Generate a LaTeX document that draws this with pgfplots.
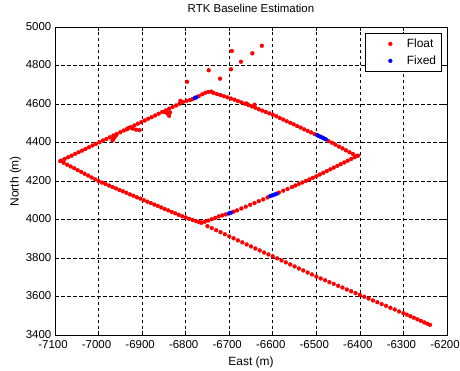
\documentclass[border=0pt]{standalone}
\usepackage{fontspec}
\setmainfont{Liberation Sans}
\usepackage{pgfplots}
\pgfplotsset{compat=1.18}
\begin{document}
\fontsize{12}{14}\selectfont
\begin{tikzpicture}
\useasboundingbox (-55bp,-35.7bp) rectangle (405bp,335.3bp);
\begin{axis}[
  at={(0,0)}, anchor=south west,
  scale only axis, width=392bp, height=308bp,
  xmin=-7100, xmax=-6200, ymin=3400, ymax=5000,
  xtick={-7100,-7000,...,-6200},
  ytick={3400,3600,...,5000},
  /pgf/number format/assume math mode=true,
  /pgf/number format/1000 sep={},
  tick align=inside, major tick length=4bp,
  tick style={black, line width=0.7bp},
  axis line style={black, line width=0.9bp},
  grid=major,
  grid style={black, line width=0.7bp, dash pattern=on 3.5bp off 2.5bp},
  title={RTK Baseline Estimation},
  title style={at={(axis description cs:0.5,1)}, anchor=base, yshift=9bp, font=\fontsize{11.5}{13}\selectfont},
  xlabel={East (m)},
  xlabel style={at={(axis description cs:0.5,0)}, anchor=base, yshift=-30bp},
  ylabel={North (m)},
  ylabel style={at={(axis description cs:-0.093,0.5)}, anchor=base},
  ticklabel style={font=\fontsize{11.5}{13}\selectfont},
  xticklabel style={yshift=-1.5bp, xshift=-2bp},
  yticklabel style={xshift=0.5bp, yshift=1bp},
  legend style={at={(axis description cs:0.987,0.982)}, anchor=north east,
    draw=black, line width=0.7bp, inner sep=3.5bp, row sep=2.5bp,
    nodes={anchor=west}},
  legend image code/.code={%
    \path (0cm,0cm) (1.25cm,0cm);
    \draw[mark repeat=2,mark phase=2,#1] plot coordinates {(0.5cm,0cm) (0.75cm,0cm) (1.0cm,0cm)};
  },
]
% Float
\addplot[only marks, mark=*, mark size=2bp, red, mark options={draw=red, fill=red, line width=0.2bp}] coordinates {
% upper-left edge
(-7088,4305) (-7086,4307) (-7078,4316) (-7070,4325) (-7062,4333) (-7054,4342) (-7046,4351)
(-7038,4359) (-7030,4368) (-7022,4377) (-7014,4386) (-7006,4394) (-6998,4403) (-6990,4412)
(-6982,4420) (-6974,4429) (-6966,4438) (-6958,4446) (-6950,4455) (-6942,4464) (-6934,4473)
(-6926,4481) (-6918,4490) (-6910,4499) (-6902,4507) (-6894,4516) (-6886,4525) (-6878,4533)
(-6870,4542) (-6862,4551) (-6854,4560) (-6846,4568) (-6838,4577) (-6830,4586) (-6822,4594)
(-6814,4603) (-6806,4612)
% blobs
(-6848,4560) (-6843,4555) (-6840,4548) (-6838,4540) (-6845,4566) (-6836,4558)
(-6930,4478) (-6922,4474) (-6914,4468) (-6906,4466) (-6935,4470)
(-6960,4440) (-6963,4430) (-6966,4420) (-6968,4412)
% near top
(-6812,4618) (-6798,4618) (-6790,4622) (-6784,4627)
(-6770,4642) (-6762,4652) (-6755,4660) (-6748,4664) (-6741,4666)
% upper-right edge
(-6736,4659) (-6728,4653) (-6720,4648) (-6712,4642) (-6704,4636) (-6696,4630) (-6688,4624)
(-6680,4617) (-6672,4610) (-6664,4603) (-6656,4596) (-6648,4589) (-6640,4582) (-6632,4574)
(-6624,4567) (-6616,4560) (-6608,4553) (-6600,4546)
(-6592,4538) (-6584,4529) (-6576,4521) (-6568,4512) (-6560,4504) (-6552,4496) (-6544,4487)
(-6536,4479) (-6528,4470) (-6520,4462) (-6512,4454) (-6504,4445)
(-6472,4409) (-6464,4400) (-6456,4390) (-6448,4380) (-6440,4371) (-6432,4361) (-6424,4351)
(-6416,4342) (-6408,4332) (-6404,4333)
(-6642,4598) (-6660,4604)
% lower-right edge
(-6412,4325) (-6420,4316) (-6428,4307) (-6436,4298) (-6444,4289) (-6452,4280) (-6460,4271)
(-6468,4262) (-6476,4253) (-6484,4244) (-6492,4235) (-6500,4226)
(-6508,4218) (-6516,4210) (-6524,4202) (-6532,4194) (-6540,4186) (-6548,4178) (-6556,4170)
(-6566,4160) (-6576,4151) (-6586,4141)
(-6612,4116) (-6622,4106) (-6632,4097) (-6642,4087) (-6652,4078) (-6662,4068) (-6672,4059)
(-6682,4049) (-6690,4042)
(-6708,4028) (-6716,4023) (-6724,4018) (-6732,4010) (-6740,4003) (-6748,3996) (-6756,3990)
(-6763,3985)
% lower-left edge
(-7080,4296) (-7072,4286) (-7064,4277) (-7056,4268) (-7048,4258) (-7040,4249) (-7032,4239)
(-7024,4230) (-7016,4220) (-7008,4211) (-7000,4201)
(-6992,4193) (-6984,4186) (-6976,4178) (-6968,4170) (-6960,4163) (-6952,4155) (-6944,4148)
(-6936,4140) (-6928,4132) (-6920,4125) (-6912,4117) (-6904,4110) (-6896,4102) (-6888,4094)
(-6880,4087) (-6872,4079) (-6864,4072) (-6856,4064) (-6848,4056) (-6840,4049) (-6832,4041)
(-6824,4034) (-6816,4026) (-6808,4019) (-6800,4012)
(-6792,4005) (-6784,3999) (-6776,3993) (-6770,3989) (-6765,3986)
% straight sparse line
(-6750,3967) (-6740,3957) (-6730,3946) (-6720,3936) (-6710,3925) (-6700,3914) (-6690,3904)
(-6680,3893) (-6670,3883) (-6660,3872) (-6650,3862) (-6640,3851) (-6630,3841) (-6620,3830)
(-6610,3820) (-6600,3810) (-6590,3800) (-6580,3789) (-6570,3779) (-6560,3768) (-6550,3758)
(-6540,3747) (-6530,3737) (-6520,3726) (-6510,3716) (-6500,3705) (-6490,3695) (-6480,3686)
(-6470,3676) (-6460,3667) (-6450,3657) (-6440,3648) (-6430,3638) (-6420,3629) (-6410,3619)
(-6400,3610) (-6390,3600) (-6380,3591) (-6370,3581) (-6360,3572) (-6350,3562) (-6340,3553)
(-6330,3543) (-6320,3534) (-6310,3524) (-6300,3515) (-6292,3507) (-6284,3499) (-6276,3491)
(-6268,3483) (-6260,3475) (-6252,3467) (-6245,3460) (-6239,3454)
% scattered
(-6625,4904) (-6647,4865) (-6673,4821) (-6694,4877) (-6696,4782) (-6721,4733) (-6747,4777)
(-6797,4717)
};
\addlegendentry{Float}
% Fixed
\addplot[only marks, mark=*, mark size=2bp, blue, mark options={draw=blue, fill=blue, line width=0.2bp}] coordinates {
(-6779,4633) (-6776,4636)
(-6498,4440) (-6494,4435) (-6490,4431) (-6486,4427) (-6482,4422) (-6478,4418)
(-6606,4123) (-6601,4127) (-6596,4131) (-6591,4135)
(-6701,4033) (-6696,4037)
};
\addlegendentry{Fixed}
\end{axis}
\end{tikzpicture}
\end{document}
